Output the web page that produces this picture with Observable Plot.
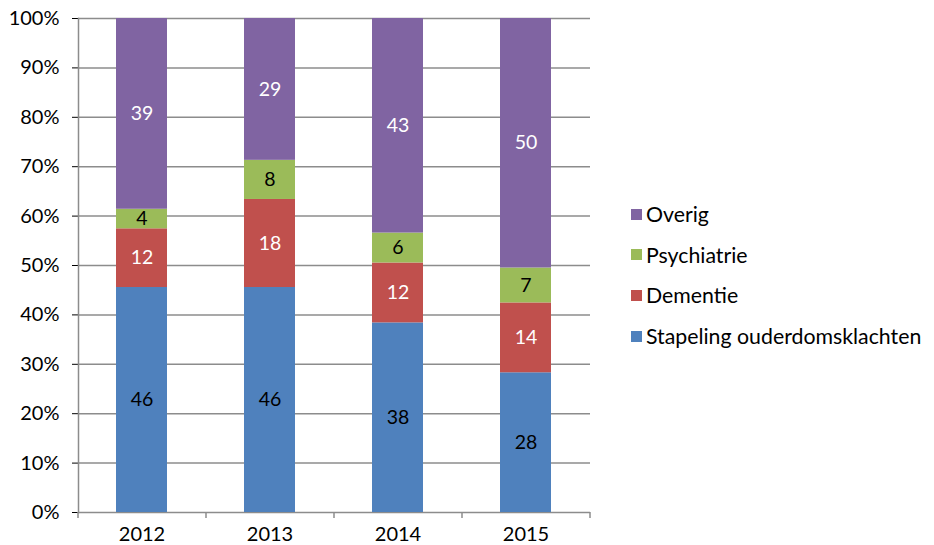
<!DOCTYPE html>
<html><head><meta charset="utf-8">
<script src="https://cdn.jsdelivr.net/npm/d3@7"></script>
<script src="https://cdn.jsdelivr.net/npm/@observablehq/plot@0.6"></script>
<style>
body{margin:0;background:#fff;font-family:Lato,"Open Sans",sans-serif;}
#wrap{position:relative;width:934px;height:545px;}
#legend{position:absolute;left:624px;top:202px;font-size:21.3px;color:#000;}
#legend .it{display:flex;align-items:center;height:24px;margin-bottom:16.7px;}
#legend .sw{width:11px;height:11px;margin-right:4px;margin-left:7px;}
</style></head>
<body><div id="wrap"><div id="chart"></div><div id="legend"></div></div>
<script>
const years = ["2012","2013","2014","2015"];
const seriesNames = ["Stapeling ouderdomsklachten","Dementie","Psychiatrie","Overig"];
const stapeling = [46,46,38,28];
const dementie = [12,18,12,14];
const psychiatrie = [4,8,6,7];
const overig = [39,29,43,50];
const colors = ["#4F81BD","#C0504D","#9BBB59","#8064A2"];
const textColors = ["#000","#fff","#000","#fff"];
const yTicks = [0,0.1,0.2,0.3,0.4,0.5,0.6,0.7,0.8,0.9,1];

const valuesBySeries = [stapeling, dementie, psychiatrie, overig];
const data = [];
seriesNames.forEach((s,i)=>years.forEach((y,j)=>data.push({year:y, series:s, value:valuesBySeries[i][j], si:i})));

const stackOpts = {x:"year", y:"value", z:"series", offset:"normalize", order: seriesNames};

const chart = Plot.plot({
  width:934, height:545,
  marginLeft:78, marginRight:344, marginTop:18, marginBottom:33,
  style:{fontFamily:"Lato, 'Open Sans', sans-serif", fontSize:"20px", color:"#000", background:"#fff"},
  x:{domain:years, paddingInner:0.6, paddingOuter:0.3, label:null, tickSize:0, tickPadding:14},
  y:{domain:[0,1], ticks:yTicks, tickFormat:d3.format(".0%"), label:null, tickSize:6, tickPadding:13},
  color:{domain:seriesNames, range:colors},
  marks:[
    Plot.ruleY(yTicks, {stroke:"#8c8c8c", strokeWidth:1.5}),
    Plot.frame({anchor:"left", stroke:"#8c8c8c", strokeWidth:1.5}),
    Plot.barY(data, Plot.stackY({...stackOpts, fill:"series"})),
    Plot.text(data, Plot.stackY({...stackOpts, text:d=>String(d.value), fill:d=>textColors[d.si], fontSize:19.5})),
    Plot.ruleX(years, {x:d=>d, dx:-64, y1:0, y2:-0.012, stroke:"#8c8c8c", strokeWidth:1.5}),
    Plot.ruleX([years[years.length-1]], {x:d=>d, dx:64, y1:0, y2:-0.012, stroke:"#8c8c8c", strokeWidth:1.5})
  ]
});
document.getElementById("chart").appendChild(chart);

const legend = document.getElementById("legend");
seriesNames.slice().reverse().forEach((s)=>{
  const i = seriesNames.indexOf(s);
  const it = document.createElement("div"); it.className="it";
  const sw = document.createElement("div"); sw.className="sw"; sw.style.background=colors[i];
  const t = document.createElement("span"); t.textContent=s;
  it.appendChild(sw); it.appendChild(t); legend.appendChild(it);
});
</script></body></html>
